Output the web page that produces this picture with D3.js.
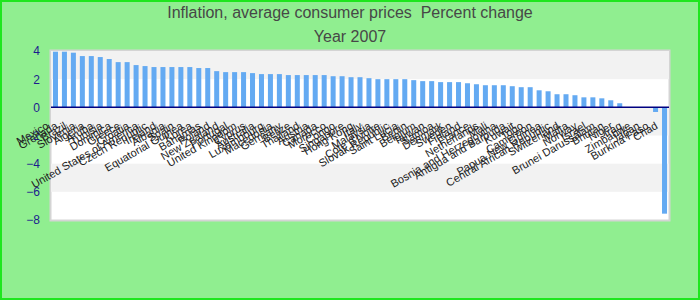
<!DOCTYPE html>
<html>
<head>
<meta charset="utf-8">
<script src="https://cdn.jsdelivr.net/npm/d3@7"></script>
<style>
  body { margin: 0; padding: 0; }
  svg { display: block; font-family: "Liberation Sans", Arial, sans-serif; }
  .title { white-space: pre; }
</style>
</head>
<body>
<svg id="chart" width="700" height="300"></svg>
<script>
// chart data
const titleLines = ["Inflation, average consumer prices  Percent change", "Year 2007"];

const countries = [
    "Mexico", "Grenada", "Brazil", "Slovenia", "Algeria", "Aruba", "Tunisia", "Dominica",
    "Greece", "Croatia", "United States of America", "Czech Republic", "Ireland", "Albania",
    "Spain", "Equatorial Guinea", "Korea", "Bahamas", "Poland", "New Zealand", "Portugal",
    "United Kingdom", "Cyprus", "Australia", "Luxembourg", "Macedonia", "Germany", "Belize",
    "Thailand", "Austria", "Canada", "Morocco", "Congo", "Singapore", "Hong Kong", "Italy",
    "Malaysia", "Cote d'Ivoire", "Slovak Republic", "Saint Lucia", "Benin", "Belgium",
    "Taiwan", "Samoa", "Denmark", "Sweden", "Finland", "France", "Netherlands", "Mali",
    "Bosnia and Herzegovina", "Antigua and Barbuda", "Kuwait", "Togo", "Cameroon",
    "Papua New Guinea", "Central African Republic", "Switzerland", "Malta", "Norway",
    "Israel", "Brunei Darussalam", "Bhutan", "Niger", "Iraq", "Zimbabwe", "Japan",
    "Burkina Faso", "Chad"
];

const inflation = [
    3.95, 3.95, 3.88, 3.64, 3.64, 3.57, 3.43, 3.21,
    3.21, 3.0, 2.93, 2.86, 2.86, 2.86,
    2.86, 2.86, 2.79, 2.79, 2.57, 2.5, 2.5,
    2.5, 2.43, 2.36, 2.36, 2.36, 2.29, 2.29,
    2.29, 2.29, 2.29, 2.21, 2.21, 2.14, 2.14, 2.07,
    2.0, 2.0, 2.0, 2.0, 1.93, 1.86,
    1.86, 1.79, 1.79, 1.79, 1.71, 1.64, 1.57, 1.57,
    1.57, 1.5, 1.43, 1.43, 1.21,
    1.14, 0.93, 0.93, 0.86, 0.71,
    0.71, 0.64, 0.5, 0.29, 0, 0, 0,
    -0.33, -7.55
];

const yTicks = [-8, -6, -4, -2, 0, 2, 4];

const svg = d3.select("#chart"),
    width = +svg.attr("width"),
    height = +svg.attr("height");

const plot = { left: 51, right: 669, top: 51, bottom: 220 };

// background and outer frame
svg.append("rect")
    .attr("x", 1).attr("y", 1)
    .attr("width", width - 2).attr("height", height - 2)
    .attr("fill", "#90ee90")
    .attr("stroke", "#1ee61e")
    .attr("stroke-width", 2);

// title
svg.append("g").selectAll("text")
    .data(titleLines)
    .enter().append("text")
    .attr("class", "title")
    .attr("x", width / 2)
    .attr("y", (d, i) => 17.5 + i * 24)
    .attr("text-anchor", "middle")
    .attr("font-size", 16)
    .attr("fill", "#474747")
    .text(d => d);

// scales
const x = d3.scaleBand()
    .domain(countries)
    .range([plot.left, plot.right])
    .paddingInner(0.44)
    .paddingOuter(0.22);

const y = d3.scaleLinear()
    .domain([-8, 4])
    .range([plot.bottom, plot.top]);

// plot frame + alternating bands (2..4, 0..-2, -4..-6 are grey)
svg.append("rect")
    .attr("x", plot.left - 0.5).attr("y", plot.top - 0.5)
    .attr("width", plot.right - plot.left + 1)
    .attr("height", plot.bottom - plot.top + 1)
    .attr("fill", "#ffffff")
    .attr("stroke", "#d4d4d4")
    .attr("stroke-width", 2);

const bands = d3.pairs(yTicks).filter((d, i) => i % 2 == 1);
svg.append("g").selectAll("rect")
    .data(bands)
    .enter().append("rect")
    .attr("x", plot.left)
    .attr("y", d => y(d[1]))
    .attr("width", plot.right - plot.left)
    .attr("height", d => y(d[0]) - y(d[1]))
    .attr("fill", "#f2f2f2");

// y axis labels
const yAxis = d3.axisLeft(y)
    .tickValues(yTicks)
    .tickSize(0)
    .tickPadding(0);

svg.append("g")
    .attr("transform", "translate(40,0)")
    .call(yAxis)
    .call(g => g.select(".domain").remove())
    .selectAll("text")
    .attr("font-size", 12)
    .attr("font-family", "Liberation Sans, Arial, sans-serif")
    .attr("fill", "#1c1c8e");

// bars
svg.append("g").selectAll("rect")
    .data(countries.map((c, i) => ({ name: c, value: inflation[i] })))
    .enter().append("rect")
    .attr("x", d => x(d.name))
    .attr("y", d => y(Math.max(0, d.value)))
    .attr("width", x.bandwidth())
    .attr("height", d => Math.abs(y(d.value) - y(0)))
    .attr("fill", "#64aaf2");

// zero line
svg.append("line")
    .attr("x1", plot.left).attr("x2", plot.right)
    .attr("y1", y(0)).attr("y2", y(0))
    .attr("stroke", "#000080")
    .attr("stroke-width", 1.5);

// category labels, rotated
svg.append("g").selectAll("text")
    .data(countries)
    .enter().append("text")
    .attr("transform", d => `translate(${x(d) + x.bandwidth() / 2 - 6},128) rotate(-30)`)
    .attr("text-anchor", "end")
    .attr("font-size", 11)
    .attr("fill", "#222")
    .text(d => d);
</script>
</body>
</html>
